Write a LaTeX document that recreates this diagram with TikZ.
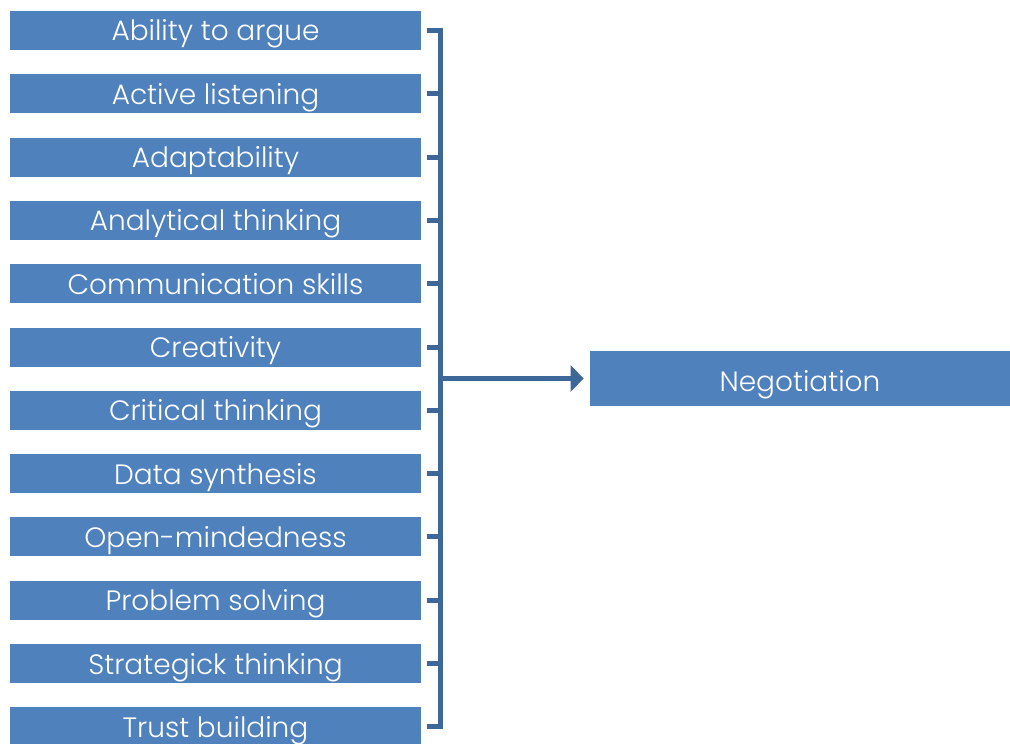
\documentclass[tikz,border=0pt]{standalone}
\usepackage{fontspec}
\setmainfont{Poppins}[UprightFont=* Light]
\usetikzlibrary{arrows.meta}
\begin{document}
\begin{tikzpicture}[x=0.5pt,y=-0.5pt,
        skillbox/.style={fill=boxblue, text=white, inner sep=0pt,
            minimum width=205.5pt, text height=15pt, text depth=4.5pt,
            font=\fontsize{14}{16}\selectfont},
        link/.style={draw=lineblue, line width=2.5pt}]
            \definecolor{boxblue}{HTML}{4F81BD}
            \definecolor{lineblue}{HTML}{3D6699}
            \useasboundingbox (0,0) rectangle (1010,743);
            \foreach \name [count=\i] in {Ability to argue, Active listening,
                Adaptability, Analytical thinking, Communication skills,
                Creativity, Critical thinking, Data synthesis,
                Open-mindedness, Problem solving, Strategick thinking,
                Trust building}
                \node[skillbox] (skill\i) at (215.5,{30.5+63.3*(\i-1)}) {\name};
            \node[skillbox, minimum width=210pt, text height=20pt, text depth=7.5pt] (neg) at (800,378.5) {Negotiation};
            \coordinate (join) at (440,378.5);
            \draw[link] ([xshift=3pt]skill1.east) -- (skill1.east -| join)
                -- (skill12.east -| join) -- ([xshift=3pt]skill12.east);
            \foreach \i in {2,...,11}
                \draw[link] ([xshift=3pt]skill\i.east) -- (skill\i.east -| join);
            \draw[link, -{Triangle[length=6.5pt,width=13pt]}, shorten >=3pt] (join) -- (neg.west);
        \end{tikzpicture}
\end{document}
